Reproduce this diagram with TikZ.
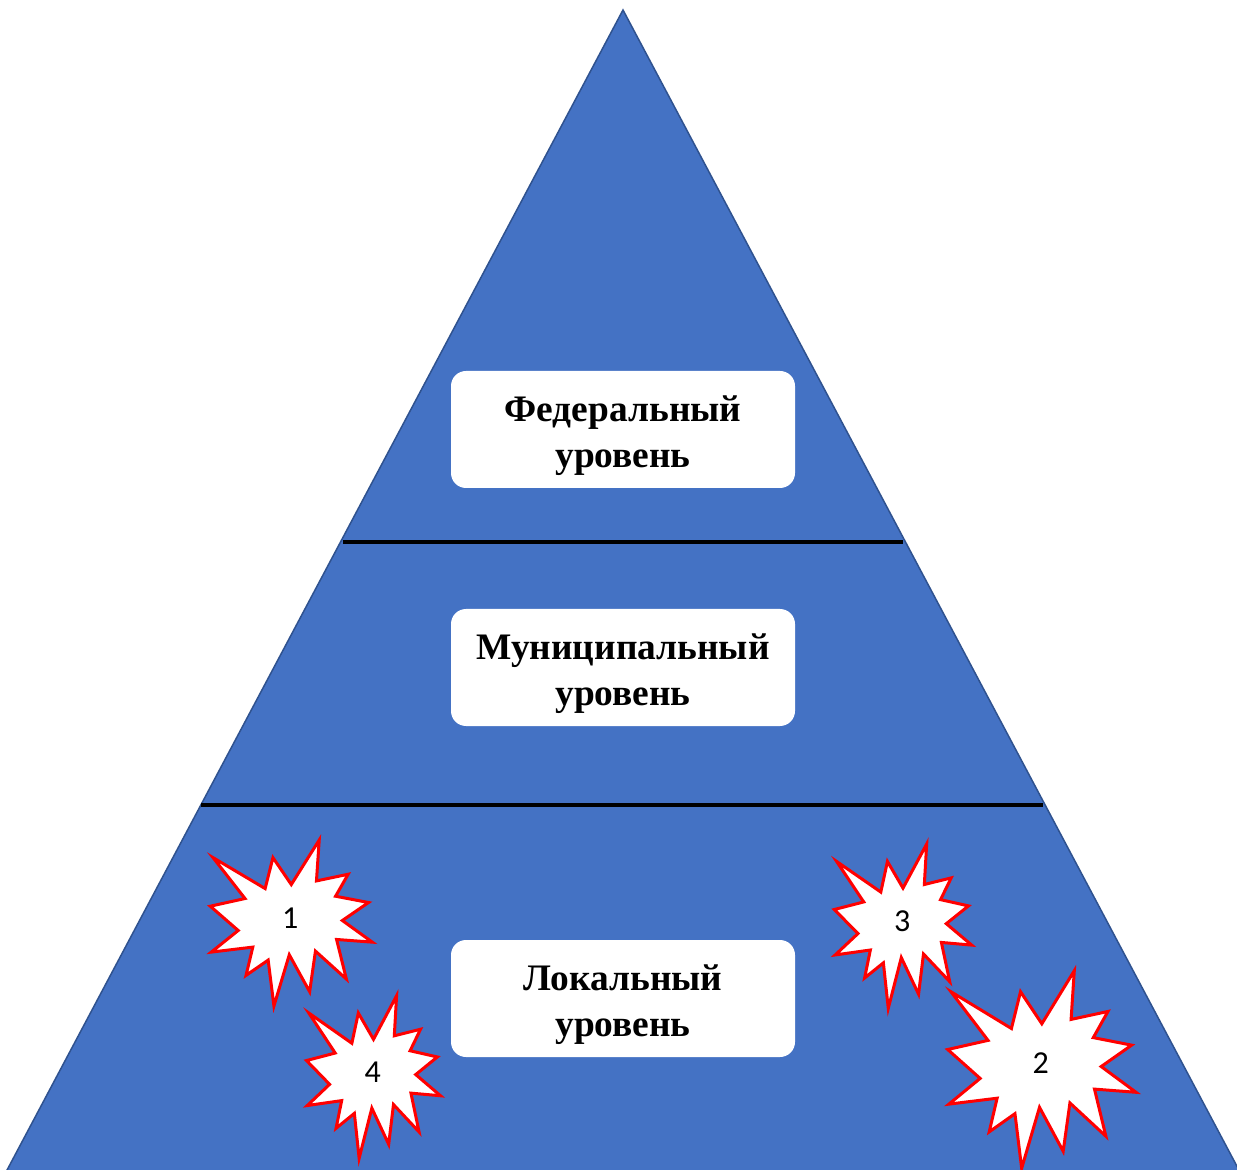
\documentclass[tikz,border=0pt]{standalone}
\usepackage{fontspec}
\setmainfont{Liberation Serif}
\newfontfamily\numfont{Carlito}
\usetikzlibrary{positioning}
\definecolor{office}{HTML}{4472C4}
\definecolor{edge}{HTML}{2F528F}
\tikzset{
  level/.style={fill=white,rounded corners=7.5pt,minimum width=172pt,minimum height=58.5pt,
    align=center,font=\fontsize{18.7}{23}\selectfont\bfseries,inner sep=0pt},
  divider/.style={draw=black,line width=2pt},
  burst/.style={draw=red,line width=1.5pt,fill=white,line join=miter},
  numlabel/.style={font=\numfont\fontsize{16}{18}\selectfont,inner sep=0pt},
  pics/explosion/.style={code={
    \draw[burst] (50,26.85) -- (67.23,0) -- (65.53,24.65) -- (85.09,20.63) -- (77.32,33.87)
      -- (97.67,37.67) -- (81.51,48.50) -- (100,61.53) -- (77.95,59.92) -- (84.00,83.77)
      -- (64.91,66.93) -- (61.33,91.38) -- (48.76,69.14) -- (39.28,100) -- (35.72,72.35)
      -- (22.05,81.56) -- (26.24,64.52) -- (0.63,67.53) -- (17.23,54.51) -- (0,39.88)
      -- (21.42,35.26) -- (1.71,10.63) -- (33.85,29.26) -- (38.67,10.63) -- cycle;
    \node[numlabel] (-num) at (49.37,46.89) {#1};
  }}
}
\newcommand{\lvlstrut}{\rule{0pt}{19pt}}
\begin{document}
\begin{tikzpicture}[x=0.5pt,y=-0.5pt]
  \useasboundingbox (0,0) rectangle (1237,1170);
  \begin{scope}
    \clip (0,0) rectangle (1237,1170);
    % pyramid
    \coordinate (apex) at (623,10);
    \coordinate (bl) at (6,1172);
    \coordinate (br) at (1240,1172);
    \draw[draw=edge,line width=0.75pt,fill=office] (apex) -- (br) -- (bl) -- cycle;
  \end{scope}

  % level dividers
  \coordinate (d1l) at (343,542);
  \coordinate (d1r) at (903,542);
  \coordinate (d2l) at (201,805);
  \coordinate (d2r) at (1043,805);
  \draw[divider] (d1l) -- (d1r);
  \draw[divider] (d2l) -- (d2r);

  \node[level] (fed) at (623,429.5) {\lvlstrut Федеральный\\уровень};
  \node[level] (mun) at (623,667.5) {\lvlstrut Муниципальный\\уровень};
  \node[level] (loc) at (623,998.5) {\lvlstrut Локальный\\уровень};

  % incidents on the local level
  \pic[xscale=1.62,yscale=1.66] (s1) at (210.3,840) {explosion={1}};
  \pic[xscale=1.883,yscale=1.976] (s2) at (947.7,970.7) {explosion={2}};
  \pic[xscale=1.374,yscale=1.643] (s3) at (834.3,844) {explosion={3}};
  \pic[xscale=1.34,yscale=1.626] (s4) at (306.5,995.7) {explosion={4}};
\end{tikzpicture}
\end{document}
